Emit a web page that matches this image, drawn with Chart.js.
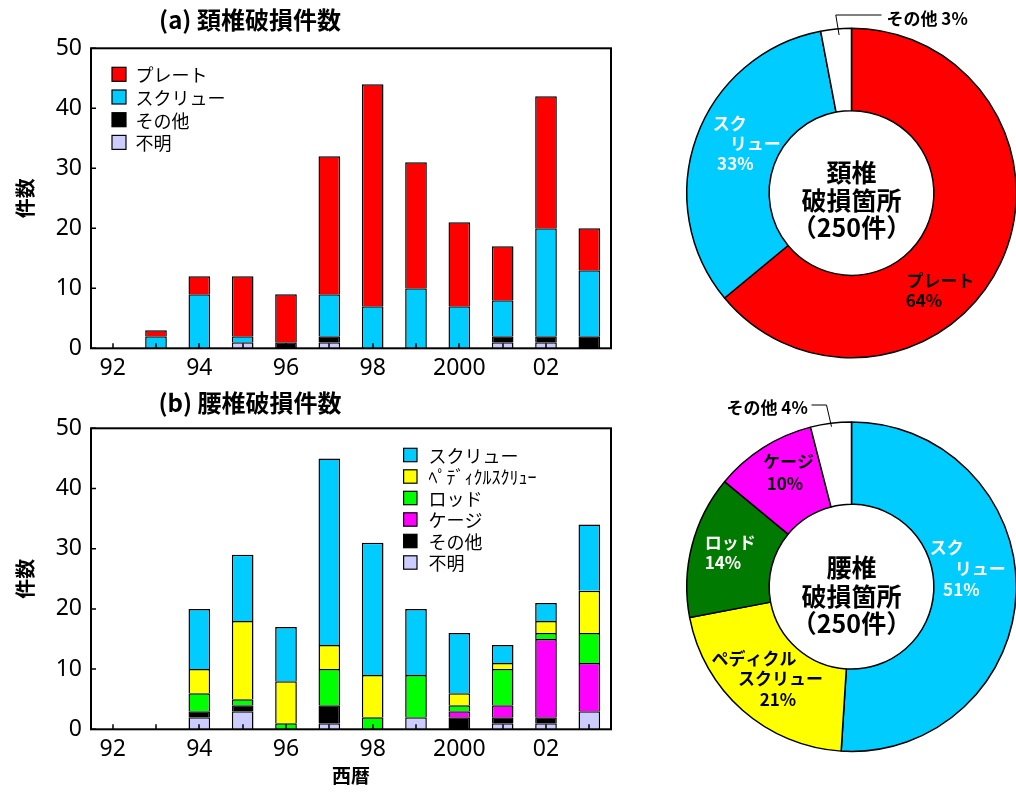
<!DOCTYPE html>
<html lang="ja">
<head>
<meta charset="utf-8">
<script src="https://cdn.jsdelivr.net/npm/chart.js@4.4.1/dist/chart.umd.min.js"></script>
<style>
html, body { margin: 0; padding: 0; background: #fff; }
body { width: 1016px; height: 793px; overflow: hidden; position: relative; }
canvas { position: absolute; }
#barA { left: 0; top: 0; }
#barB { left: 0; top: 385px; }
#ringA { left: 640px; top: 0; }
#ringB { left: 640px; top: 390px; }
</style>
</head>
<body>
<canvas id="barA" width="620" height="390"></canvas>
<canvas id="barB" width="620" height="408"></canvas>
<canvas id="ringA" width="420" height="390"></canvas>
<canvas id="ringB" width="420" height="403"></canvas>
<script>
// ---- data ----
const years = ['1992','1993','1994','1995','1996','1997','1998','1999','2000','2001','2002','2003'];
const yearTickLabels = ['92','','94','','96','','98','','2000','','02',''];
const countTicks = [0, 10, 20, 30, 40, 50];

// (a) cervical spine failures per year
const cervUnknown = [0,0,0,1,0,1,0,0,0,1,1,0];
const cervOther   = [0,0,0,0,1,1,0,0,0,1,1,2];
const cervScrew   = [0,2,9,1,0,7,7,10,7,6,18,11];
const cervPlate   = [0,1,3,10,8,23,37,21,14,9,22,7];

// (b) lumbar spine failures per year
const lumbUnknown = [0,0,2,3,0,1,0,2,0,1,1,3];
const lumbOther   = [0,0,1,1,0,3,0,0,2,1,1,0];
const lumbCage    = [0,0,0,0,0,0,0,0,1,2,13,8];
const lumbRod     = [0,0,3,1,1,6,2,7,1,6,1,5];
const lumbPedicle = [0,0,4,13,7,4,7,0,2,1,2,7];
const lumbScrew   = [0,0,10,11,9,31,22,11,10,3,3,11];

// failure site shares (%)
const cervParts = ['プレート', 'スクリュー', 'その他'];
const cervShare = [64, 33, 3];
const cervNameLines = [['プレート'], ['スク', 'リュー'], ['その他']];
const lumbParts = ['スクリュー', 'ペディクルスクリュー', 'ロッド', 'ケージ', 'その他'];
const lumbShare = [51, 21, 14, 10, 4];
const lumbNameLines = [['スク', 'リュー'], ['ペディクル', 'スクリュー'], ['ロッド'], ['ケージ'], ['その他']];

// ---- styling ----
const JP = '"Noto Sans CJK JP", "Noto Sans", sans-serif';
const NUM = '"Noto Sans", "DejaVu Sans", sans-serif';
const C = {
  plate: '#FF0000', screw: '#00CCFF', other: '#000000', unknown: '#CCCCFF',
  pedicle: '#FFFF00', rod: '#00FF00', cage: '#FF00FF', rodDark: '#007A00', white: '#FFFFFF'
};

// plot frame with inward tick marks
const framePlugin = {
  id: 'frame',
  afterDatasetsDraw(chart) {
    const { ctx, chartArea: a, scales: { x, y } } = chart;
    ctx.save();
    ctx.strokeStyle = '#000';
    ctx.lineWidth = 1.5;
    ctx.beginPath();
    x.ticks.forEach((t, i) => {
      const px = Math.round(x.getPixelForTick(i));
      ctx.moveTo(px, a.bottom);
      ctx.lineTo(px, a.bottom - 5);
    });
    y.ticks.forEach((t, i) => {
      const py = y.getPixelForTick(i);
      ctx.moveTo(a.left, py);
      ctx.lineTo(a.left + 5, py);
    });
    ctx.stroke();
    ctx.lineWidth = 2;
    ctx.strokeRect(a.left, a.top, a.right - a.left, a.bottom - a.top);
    ctx.restore();
  }
};

// panel heading
const panelTitlePlugin = {
  id: 'panelTitle',
  afterDraw(chart, args, o) {
    const { ctx } = chart;
    ctx.save();
    ctx.fillStyle = '#000';
    ctx.font = 'bold 24px ' + JP;
    ctx.textAlign = 'center';
    ctx.textBaseline = 'middle';
    ctx.fillText(o.text, o.x, o.y);
    ctx.restore();
  }
};

// legend drawn inside the plot area, top of stack first
const boxLegendPlugin = {
  id: 'boxLegend',
  afterDraw(chart, args, o) {
    const { ctx, chartArea: a } = chart;
    const items = chart.data.datasets.slice().reverse();
    ctx.save();
    ctx.font = '18px ' + JP;
    ctx.textBaseline = 'middle';
    ctx.textAlign = 'left';
    items.forEach((ds, i) => {
      const cy = a.top + o.top + i * o.rowH;
      const bx = a.left + o.left;
      ctx.fillStyle = ds.backgroundColor;
      ctx.fillRect(bx, cy - o.box / 2, o.box, o.box);
      ctx.strokeStyle = '#000';
      ctx.lineWidth = 1.2;
      ctx.strokeRect(bx, cy - o.box / 2, o.box, o.box);
      ctx.fillStyle = '#000';
      ctx.fillText(ds.legendText || ds.label, bx + o.textGap, cy + 1);
    });
    ctx.restore();
  }
};

function barSet(label, data, color, legendText) {
  return {
    label, data, legendText,
    backgroundColor: color,
    borderColor: '#000',
    borderWidth: 1.5,
    barPercentage: 1,
    categoryPercentage: 0.5
  };
}

function makeBarChart(id, datasets, o) {
  return new Chart(document.getElementById(id), {
    type: 'bar',
    data: { labels: years, datasets },
    options: {
      responsive: false,
      animation: false,
      devicePixelRatio: 1,
      layout: { padding: { top: o.padTop, right: 9, left: 0, bottom: 0 } },
      plugins: {
        legend: { display: false },
        tooltip: { enabled: false },
        panelTitle: o.title,
        boxLegend: o.legend
      },
      scales: {
        x: {
          stacked: true,
          offset: true,
          grid: { display: false, drawTicks: false },
          border: { display: false },
          ticks: {
            autoSkip: false, maxRotation: 0, minRotation: 0, padding: 6,
            color: '#000', font: { family: NUM, size: 23 },
            callback: (v, i) => yearTickLabels[i]
          },
          title: o.xTitle ? {
            display: true, text: o.xTitle, color: '#000',
            font: { family: JP, size: 19, weight: 'bold' }, padding: { top: 0, bottom: 6 }
          } : { display: false },
          afterFit: s => { s.height = o.xHeight; }
        },
        y: {
          stacked: true,
          min: countTicks[0],
          max: countTicks[countTicks.length - 1],
          grid: { display: false, drawTicks: false },
          border: { display: false },
          afterBuildTicks: s => { s.ticks = countTicks.map(v => ({ value: v })); },
          ticks: { padding: 9, color: '#000', font: { family: NUM, size: 23 } },
          title: {
            display: true, text: '件数', color: '#000',
            font: { family: JP, size: 20, weight: 'bold' }, padding: { top: 13, bottom: 0 }
          },
          afterFit: s => { s.width = 91; }
        }
      }
    },
    plugins: [framePlugin, panelTitlePlugin, boxLegendPlugin]
  });
}

makeBarChart('barA', [
  barSet('不明', cervUnknown, C.unknown),
  barSet('その他', cervOther, C.other),
  barSet('スクリュー', cervScrew, C.screw),
  barSet('プレート', cervPlate, C.plate)
], {
  padTop: 48.3, xHeight: 41.7,
  title: { text: '(a) 頚椎破損件数', x: 250, y: 20 },
  legend: { left: 21, top: 26, rowH: 22.7, box: 14, textGap: 23.5 }
});

makeBarChart('barB', [
  barSet('不明', lumbUnknown, C.unknown),
  barSet('その他', lumbOther, C.other),
  barSet('ケージ', lumbCage, C.cage),
  barSet('ロッド', lumbRod, C.rod),
  barSet('ペディクルスクリュー', lumbPedicle, C.pedicle, 'ﾍﾟﾃﾞｨｸﾙｽｸﾘｭｰ'),
  barSet('スクリュー', lumbScrew, C.screw)
], {
  padTop: 43.3, xHeight: 63.7, xTitle: '西暦',
  title: { text: '(b) 腰椎破損件数', x: 250, y: 18 },
  legend: { left: 312.6, top: 26.7, rowH: 21.5, box: 13.4, textGap: 25 }
});

// labels around and inside the ring
const ringLabelPlugin = {
  id: 'ringLabels',
  afterDraw(chart, args, o) {
    const { ctx } = chart;
    const arc = chart.getDatasetMeta(0).data[0];
    const cx = arc.x, cy = arc.y;
    const values = chart.data.datasets[0].data;
    ctx.save();
    ctx.textBaseline = 'middle';
    ctx.textAlign = 'left';
    ctx.font = 'bold 17px ' + JP;
    o.slices.forEach((s, i) => {
      const pct = values[i] + '%';
      const names = o.names[i];
      ctx.fillStyle = s.color;
      if (s.inline) {
        ctx.fillText(names.join('') + ' ' + pct, cx + s.inline[0], cy + s.inline[1]);
        ctx.strokeStyle = '#000';
        ctx.lineWidth = 1;
        ctx.beginPath();
        s.leader.forEach(([dx, dy], k) => {
          if (k === 0) ctx.moveTo(cx + dx, cy + dy); else ctx.lineTo(cx + dx, cy + dy);
        });
        ctx.stroke();
      } else {
        names.concat([pct]).forEach((t, k) => ctx.fillText(t, cx + s.at[k][0], cy + s.at[k][1]));
      }
    });
    ctx.fillStyle = '#000';
    ctx.textAlign = 'center';
    ctx.font = 'bold 25px ' + JP;
    o.caption.forEach((t, k) => ctx.fillText(t, cx, cy + o.captionDy[k]));
    ctx.restore();
  }
};

function makeRing(id, labels, values, colors, pad, labelOpts) {
  return new Chart(document.getElementById(id), {
    type: 'doughnut',
    data: {
      labels,
      datasets: [{
        data: values,
        backgroundColor: colors,
        borderColor: '#000',
        borderWidth: 1.5
      }]
    },
    options: {
      responsive: false,
      animation: false,
      devicePixelRatio: 1,
      cutout: '50%',
      layout: { padding: pad },
      plugins: { legend: { display: false }, tooltip: { enabled: false }, ringLabels: labelOpts }
    },
    plugins: [ringLabelPlugin]
  });
}

makeRing('ringA', cervParts, cervShare, [C.plate, C.screw, C.white],
  { left: 46, right: 43, top: 27.5, bottom: 31.5 },
  {
    names: cervNameLines,
    slices: [
      { color: '#000', at: [[55, 88], [54.3, 107.5]] },
      { color: '#fff', at: [[-138.7, -69], [-121.7, -49], [-134.4, -29]] },
      { color: '#000', inline: [35, -174.7], leader: [[-12.4, -158], [-15.7, -178], [30, -178]] }
    ],
    caption: ['頚椎', '破損箇所', '（250件）'],
    captionDy: [-21, 7.5, 34.5]
  });

makeRing('ringB', lumbParts, lumbShare, [C.screw, C.pedicle, C.rodDark, C.cage, C.white],
  { left: 46, right: 43, top: 31.2, bottom: 40.8 },
  {
    names: lumbNameLines,
    slices: [
      { color: '#fff', at: [[78.3, -38.7], [103.3, -17.7], [91.6, 3.3]] },
      { color: '#000', at: [[-140, 72.3], [-113.4, 92.3], [-91.7, 113.3]] },
      { color: '#fff', at: [[-146.7, -44.2], [-146.7, -24]] },
      { color: '#000', at: [[-88.4, -125], [-84.7, -102.7]] },
      { color: '#000', inline: [-125, -179.2], leader: [[-40, -181.7], [-25, -181.7], [-20, -160]] }
    ],
    caption: ['腰椎', '破損箇所', '（250件）'],
    captionDy: [-19, 9.5, 37]
  });
</script>
</body>
</html>
